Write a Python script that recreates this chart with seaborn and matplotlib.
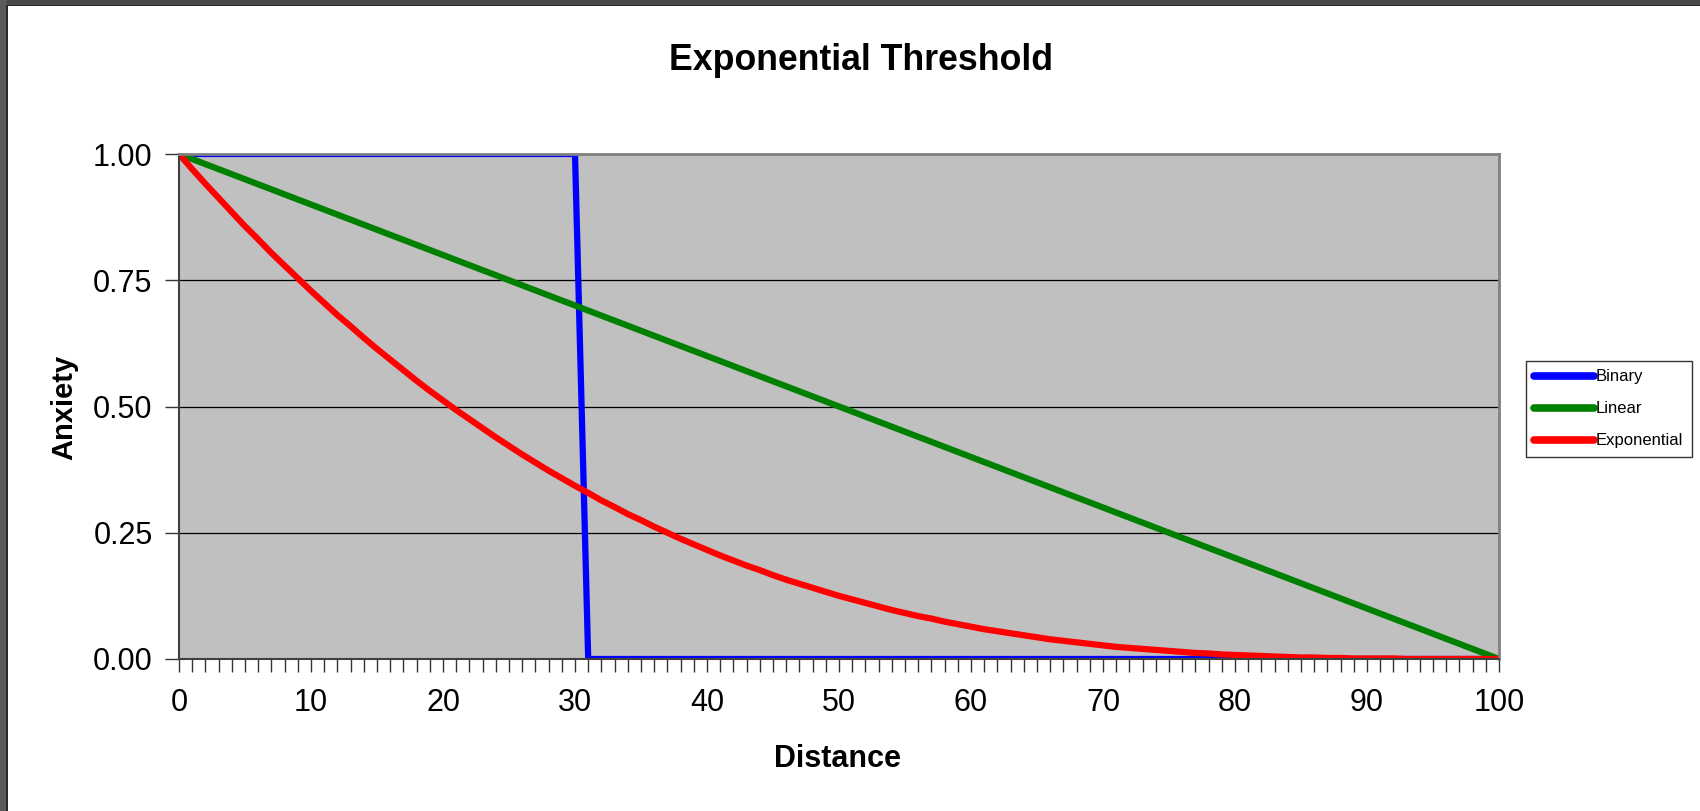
import matplotlib
matplotlib.use("Agg")
import matplotlib.pyplot as plt
from matplotlib.patches import Rectangle
from matplotlib.ticker import MultipleLocator, FormatStrFormatter
import seaborn as sns
import pandas as pd

# ---- data ----
distance = list(range(0, 101))
binary = [1.0] * 31 + [0.0] * 70
linear = [1.00, 0.99, 0.98, 0.97, 0.96, 0.95, 0.94, 0.93, 0.92, 0.91,
          0.90, 0.89, 0.88, 0.87, 0.86, 0.85, 0.84, 0.83, 0.82, 0.81,
          0.80, 0.79, 0.78, 0.77, 0.76, 0.75, 0.74, 0.73, 0.72, 0.71,
          0.70, 0.69, 0.68, 0.67, 0.66, 0.65, 0.64, 0.63, 0.62, 0.61,
          0.60, 0.59, 0.58, 0.57, 0.56, 0.55, 0.54, 0.53, 0.52, 0.51,
          0.50, 0.49, 0.48, 0.47, 0.46, 0.45, 0.44, 0.43, 0.42, 0.41,
          0.40, 0.39, 0.38, 0.37, 0.36, 0.35, 0.34, 0.33, 0.32, 0.31,
          0.30, 0.29, 0.28, 0.27, 0.26, 0.25, 0.24, 0.23, 0.22, 0.21,
          0.20, 0.19, 0.18, 0.17, 0.16, 0.15, 0.14, 0.13, 0.12, 0.11,
          0.10, 0.09, 0.08, 0.07, 0.06, 0.05, 0.04, 0.03, 0.02, 0.01,
          0.00]
exponential = [1.000, 0.970, 0.941, 0.913, 0.885, 0.857, 0.831, 0.804, 0.779, 0.754,
               0.729, 0.705, 0.681, 0.659, 0.636, 0.614, 0.593, 0.572, 0.551, 0.531,
               0.512, 0.493, 0.475, 0.457, 0.439, 0.422, 0.405, 0.389, 0.373, 0.358,
               0.343, 0.329, 0.314, 0.301, 0.287, 0.275, 0.262, 0.250, 0.238, 0.227,
               0.216, 0.205, 0.195, 0.185, 0.176, 0.166, 0.157, 0.149, 0.141, 0.133,
               0.125, 0.118, 0.111, 0.104, 0.097, 0.091, 0.085, 0.080, 0.074, 0.069,
               0.064, 0.059, 0.055, 0.051, 0.047, 0.043, 0.039, 0.036, 0.033, 0.030,
               0.027, 0.024, 0.022, 0.020, 0.018, 0.016, 0.014, 0.012, 0.011, 0.009,
               0.008, 0.007, 0.006, 0.005, 0.004, 0.003, 0.003, 0.002, 0.002, 0.001,
               0.001, 0.001, 0.001, 0.000, 0.000, 0.000, 0.000, 0.000, 0.000, 0.000,
               0.000]
series_names = ["Binary", "Linear", "Exponential"]
series_colors = ["#0000FF", "#008000", "#FF0000"]
title = "Exponential Threshold"
x_label = "Distance"
y_label = "Anxiety"

df = pd.DataFrame({
    "Distance": distance * 3,
    "Anxiety": binary + linear + exponential,
    "Series": [series_names[0]] * 101 + [series_names[1]] * 101 + [series_names[2]] * 101,
})

sns.set_style("white")
plt.rcParams["font.family"] = ["Liberation Sans", "DejaVu Sans"]
plt.rcParams["text.color"] = "black"
plt.rcParams["axes.labelcolor"] = "black"
plt.rcParams["xtick.color"] = "black"
plt.rcParams["ytick.color"] = "black"

W, H = 1700, 811
fig = plt.figure(figsize=(W / 100, H / 100), dpi=100)
fig.patch.set_facecolor("white")
ax = fig.add_axes([179 / W, 1 - 659 / H, (1499 - 179) / W, (659 - 154) / H])
ax.set_facecolor("#C0C0C0")

sns.lineplot(data=df, x="Distance", y="Anxiety", hue="Series",
             palette=dict(zip(series_names, series_colors)),
             linewidth=4.5, ax=ax, legend=True, sort=False)
for ln in ax.get_lines():
    ln.set_solid_joinstyle("round")
    ln.set_solid_capstyle("round")

ax.set_xlim(0, 100)
ax.set_ylim(0, 1)
ax.xaxis.set_major_locator(MultipleLocator(10))
ax.xaxis.set_minor_locator(MultipleLocator(1))
ax.yaxis.set_major_locator(MultipleLocator(0.25))
ax.yaxis.set_major_formatter(FormatStrFormatter("%.2f"))

ax.grid(False)
for yv in [0.25, 0.5, 0.75]:
    ax.axhline(yv, color="#000000", lw=0.9, zorder=0.5)

ax.tick_params(axis="x", which="both", direction="out", length=9, width=1.0,
               color="#333333", labelcolor="black", labelsize=22, pad=12, bottom=True)
ax.tick_params(axis="y", which="major", direction="out", length=10, width=1.0,
               color="#333333", labelcolor="black", labelsize=22, pad=9, left=True)
ax.tick_params(axis="y", which="minor", left=False)

for side in ["left", "bottom"]:
    ax.spines[side].set_color("#404040")
    ax.spines[side].set_linewidth(1.5)
for side in ["top", "right"]:
    ax.spines[side].set_color("#808080")
    ax.spines[side].set_linewidth(2.0)
for s in ax.spines.values():
    s.set_visible(True)

ax.set_xlabel("")
ax.set_ylabel("")
fig.text(861 / W, 1 - 60 / H, title, ha="center", va="center",
         fontsize=25.7, fontweight="bold", color="black")
fig.text(837 / W, 1 - 759 / H, x_label, ha="center", va="center",
         fontsize=22, fontweight="bold", color="black")
fig.text(64 / W, 1 - 407 / H, y_label, ha="center", va="center",
         fontsize=21, fontweight="bold", rotation=90, color="black")

handles, labels = ax.get_legend_handles_labels()
ax.get_legend().remove()
leg = fig.legend(handles, labels, loc="upper left",
                 bbox_to_anchor=(1526 / W, 1 - 361 / H), frameon=True,
                 fancybox=False, fontsize=12, handlelength=3.6,
                 handletextpad=0.1, labelspacing=1.02, borderpad=0.5,
                 borderaxespad=0)
leg.get_frame().set_edgecolor("#000000")
leg.get_frame().set_linewidth(1.0)
for t in leg.get_texts():
    t.set_color("black")
for h in leg.legend_handles:
    h.set_linewidth(5.5)
    h.set_solid_capstyle("round")

# screenshot frame at top and left edges
fig.patches.append(Rectangle((0, 1 - 5 / H), 1, 5 / H, transform=fig.transFigure,
                             facecolor="#484848", edgecolor="none", zorder=10))
fig.patches.append(Rectangle((0, 0), 7 / W, 1, transform=fig.transFigure,
                             facecolor="#5a5a5a", edgecolor="none", zorder=10))
fig.patches.append(Rectangle((6 / W, 0), 1.5 / W, 1 - 5 / H, transform=fig.transFigure,
                             facecolor="#2a2a2a", edgecolor="none", zorder=11))
fig.patches.append(Rectangle((6 / W, 1 - 6 / H), 1, 1.5 / H, transform=fig.transFigure,
                             facecolor="#2a2a2a", edgecolor="none", zorder=11))

fig.savefig("out.png", dpi=100)
